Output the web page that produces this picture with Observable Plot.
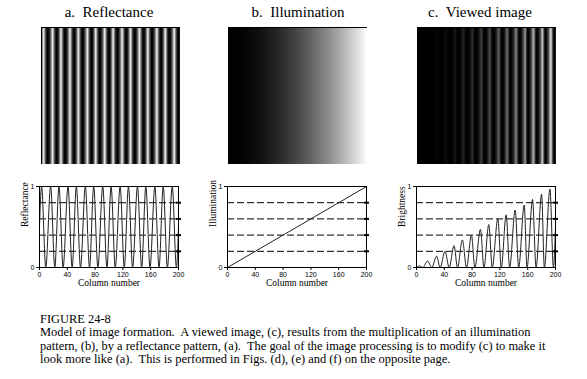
<!DOCTYPE html>
<html>
<head>
<meta charset="utf-8">
<script src="https://cdn.jsdelivr.net/npm/d3@7"></script>
<script src="https://cdn.jsdelivr.net/npm/@observablehq/plot@0.6"></script>
<style>
  body { margin: 0; background: #fff; }
  #page { position: relative; width: 587px; height: 379px; overflow: hidden;
          font-family: "Liberation Serif", "Times New Roman", serif; color: #000; background:#fff; }
  .title { position: absolute; top: 3px; width: 160px; font-size: 15px; line-height: 18px;
           white-space: pre; text-align: center; }
  .panel { position: absolute; }
  .panel svg { display: block; }
  #caption { position: absolute; left: 40px; top: 313px; font-size: 12.45px; line-height: 13.3px; white-space: pre; }
</style>
</head>
<body>
<div id="page">
  <div class="title" style="left:29px">a.  Reflectance</div>
  <div class="title" style="left:218px">b.  Illumination</div>
  <div class="title" style="left:400px">c.  Viewed image</div>
  <div class="panel" id="imgA" style="left:41px;top:27px"></div>
  <div class="panel" id="imgB" style="left:228px;top:27px"></div>
  <div class="panel" id="imgC" style="left:417px;top:27px"></div>
  <div class="panel" id="plotA" style="left:0px;top:180px"></div>
  <div class="panel" id="plotB" style="left:188px;top:180px"></div>
  <div class="panel" id="plotC" style="left:377px;top:180px"></div>
  <div id="caption">FIGURE 24-8
Model of image formation.  A viewed image, (c), results from the multiplication of an illumination
pattern, (b), by a reflectance pattern, (a).  The goal of the image processing is to modify (c) to make it
look more like (a).  This is performed in Figs. (d), (e) and (f) on the opposite page.</div>
</div>
<script>
// ---- data ----
// Reflectance: extrema (column, value)
const reflCols = [0, 3, 9, 16, 22, 28, 34, 41, 47, 53, 59, 66, 72, 78, 84, 91, 97, 103, 109, 116, 122,
                  128, 134, 141, 147, 153, 159, 166, 172, 178, 184, 191, 197, 200];
const reflVals = [0.5, 1, 0, 1, 0, 1, 0, 1, 0, 1, 0, 1, 0, 1, 0, 1, 0, 1, 0, 1, 0,
                  1, 0, 1, 0, 1, 0, 1, 0, 1, 0, 1, 0, 0.5];
// Illumination: straight ramp
const illumCols = [0, 200];
const illumVals = [0, 1];
// Viewed image (brightness): extrema (column, value)
const brightCols = [0, 4, 9, 16, 22, 29, 34, 41, 47, 54, 59, 66, 72, 79, 84, 92, 97, 104, 109, 117, 122,
                    129, 134, 142, 147, 155, 159, 167, 172, 180, 184, 192, 197, 200];
const brightVals = [0, 0.02, 0, 0.08, 0, 0.14, 0, 0.20, 0, 0.27, 0, 0.34, 0, 0.40, 0, 0.47, 0, 0.53, 0, 0.60, 0,
                    0.65, 0, 0.71, 0, 0.77, 0, 0.84, 0, 0.905, 0, 0.967, 0, 0.5];
const xTicks = [0, 40, 80, 120, 160, 200];
const yTicks = [0, 1];
const gridLevels = [0.2, 0.4, 0.6, 0.8];
const panelLabels = ["Reflectance", "Illumination", "Brightness"];
const xLabel = "Column number";

const serif = "Liberation Serif, Times New Roman, serif";
const sans = "Liberation Sans, Arial, sans-serif";

function imagePlot(cols, vals) {
  const pts = [];
  cols.forEach((c, i) => {
    pts.push({col: c, row: 0, v: vals[i]});
    pts.push({col: c, row: 1, v: vals[i]});
  });
  return Plot.plot({
    width: 139, height: 137, margin: 0,
    style: {background: "transparent"},
    x: {domain: [0, 200], axis: null},
    y: {domain: [0, 1], axis: null},
    color: {type: "pow", exponent: 1.8, domain: [0, 1], range: ["#000", "#fff"], interpolate: "rgb"},
    marks: [
      Plot.raster(pts, {x: "col", y: "row", fill: "v", interpolate: "barycentric",
        x1: 0, x2: 200, y1: 0, y2: 1, width: 278, height: 4}),
      Plot.frame({stroke: "#000"})
    ]
  });
}

function linePlot(cols, vals, label) {
  const pts = cols.map((c, i) => ({col: c, v: vals[i]}));
  return Plot.plot({
    width: 190, height: 115, marginLeft: 39, marginRight: 12, marginTop: 6, marginBottom: 28,
    style: {background: "transparent", fontFamily: sans, fontSize: "7px", color: "#000"},
    x: {domain: [0, 200]},
    y: {domain: [0, 1]},
    marks: [
      Plot.ruleY(gridLevels, {stroke: "#000", strokeDasharray: "7,3"}),
      Plot.line(pts, {x: "col", y: "v", curve: "monotone-x", stroke: "#222", strokeWidth: 1}),
      Plot.frame({stroke: "#000"}),
      Plot.axisX({ticks: xTicks, tickSize: 3, tickPadding: 2, label: null,
                  tickFormat: d => String(d), fontSize: 7, fontFamily: sans}),
      Plot.axisY({ticks: yTicks, tickSize: 3, tickPadding: 2, label: null,
                  tickFormat: d => String(d), fontSize: 7, fontFamily: sans}),
      Plot.axisY({anchor: "right", ticks: gridLevels, tickSize: 5, dx: -3, strokeWidth: 2,
                  tickFormat: () => "", label: null}),
      Plot.text([label], {text: d => d, frameAnchor: "left", dx: -15, rotate: -90,
                          fontFamily: serif, fontSize: 9.5}),
      Plot.text([xLabel], {text: d => d, frameAnchor: "bottom", dy: 18.5,
                           fontFamily: serif, fontSize: 9.5})
    ]
  });
}

document.getElementById("imgA").append(imagePlot(reflCols, reflVals));
document.getElementById("imgB").append(imagePlot(illumCols, illumVals));
document.getElementById("imgC").append(imagePlot(brightCols, brightVals));
document.getElementById("plotA").append(linePlot(reflCols, reflVals, panelLabels[0]));
document.getElementById("plotB").append(linePlot(illumCols, illumVals, panelLabels[1]));
document.getElementById("plotC").append(linePlot(brightCols, brightVals, panelLabels[2]));
</script>
</body>
</html>
